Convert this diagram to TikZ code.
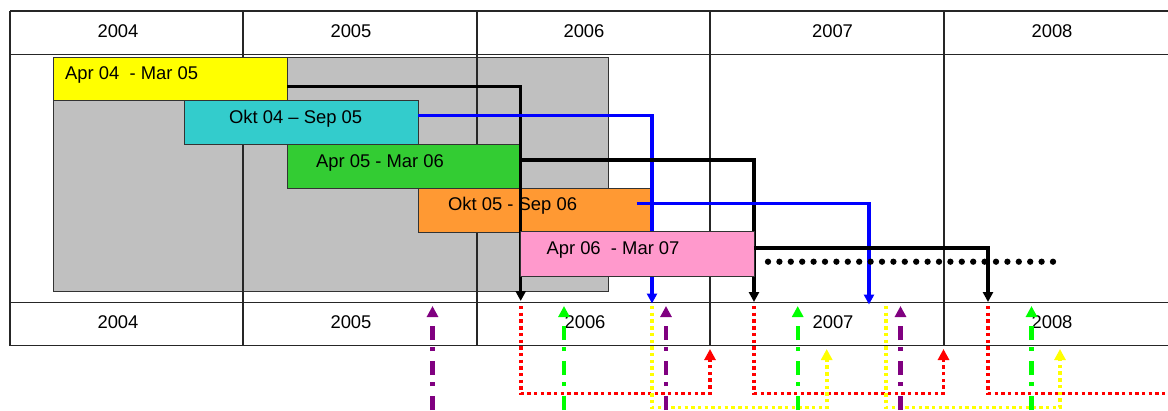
\documentclass[tikz,border=0pt]{standalone}
\usepackage{fontspec}
\setmainfont{Liberation Sans}
\usetikzlibrary{arrows.meta,calc}
\definecolor{cYellow}{HTML}{FFFF00}
\definecolor{cCyan}{HTML}{33CCCC}
\definecolor{cGreen}{HTML}{33CC33}
\definecolor{cOrange}{HTML}{FF9933}
\definecolor{cPink}{HTML}{FF99CC}
\definecolor{cGray}{HTML}{C0C0C0}
\definecolor{cBlue}{HTML}{0000FF}
\definecolor{cRed}{HTML}{FF0000}
\definecolor{cPurple}{HTML}{800080}
\definecolor{cLime}{HTML}{00FF00}
\begin{document}
\begin{tikzpicture}[x=1pt,y=-1pt,
  font=\fontsize{18.4}{22}\selectfont,
  grid/.style={line width=1.2pt,draw=black!85},
  bar/.style={draw=black!80,line width=1pt,minimum width=234pt,minimum height=44pt,inner sep=0pt,outer sep=0pt},
  lbl/.style={inner sep=0pt},
  conn/.style={line width=3.4pt,-{Triangle[length=10pt,width=10pt]}},
  redline/.style={cRed,line width=3.6pt,dash pattern=on 3.4pt off 3.3pt},
  yelline/.style={cYellow,line width=3.6pt,dash pattern=on 3.4pt off 3.3pt},
  upar/.style={-{Triangle[length=11pt,width=11pt]}},
  dashdot/.style={line width=4.3pt,dash pattern=on 14pt off 10pt on 4pt off 7pt,-{Triangle[length=11pt,width=11pt]}}
]
\useasboundingbox (0,0) rectangle (1168,410);
% gray area
\node[draw=black!80,line width=1pt,fill=cGray,inner sep=0pt,outer sep=0pt,minimum width=555pt,minimum height=234pt] (gr) at (330.5,174) {};
% table lines
\draw[grid] (10,11) -- (1168,11);
\draw[grid] (10,54.5) -- (1168,54.5);
\draw[grid] (10,302.3) -- (1168,302.3);
\draw[grid] (10,345.7) -- (1168,345.7);
\foreach \xx in {10,243,477,710,944} \draw[grid] (\xx,11) -- (\xx,345.7);
% year labels
\node[lbl] (h4) at (118,30.7) {2004};
\node[lbl] (h5) at (351,30.7) {2005};
\node[lbl] (h6) at (584,30.7) {2006};
\node[lbl] (h7) at (832.5,30.7) {2007};
\node[lbl] (h8) at (1052,30.7) {2008};
% boxes
\node[bar,fill=cYellow,minimum height=43pt] (ya) at (170,78.5) {};
\node[lbl,anchor=west] (yt) at (65,75) {Apr 04\ \ - Mar 05};
\node[bar,fill=cCyan] (cy) at (301,122) {};
\node[lbl] (ct) at (295.6,119) {Okt 04 – Sep 05};
\node[bar,fill=cGreen,minimum width=233pt] (gn) at (403.5,166) {};
\node[lbl] (gt) at (380,162.5) {Apr 05 - Mar 06};
\node[bar,fill=cOrange] (or) at (535,210) {};
\node[lbl] (ot) at (512.6,206) {Okt 05 - Sep 06};
% connector targets
\coordinate (t1) at (520.7,301);
\coordinate (t2) at (652,303.5);
\coordinate (t3) at (754,302);
\coordinate (t4) at (869,304.5);
\coordinate (t5) at (988,302);
\draw[conn] ([yshift=-8.2pt]ya.east) -| (t1);
\draw[conn,cBlue] ([yshift=6.3pt]cy.east) -| (t2);
\draw[conn] ([yshift=6pt]gn.east) -| (t3);
\draw[conn,cBlue] ([xshift=-15.3pt,yshift=6.7pt]or.east) -| (t4);
\node[bar,fill=cPink,minimum height=44.5pt] (pk) at (637,254.2) {};
\node[lbl] (pt) at (613,250) {Apr 06\ \ - Mar 07};
\draw[conn] ([yshift=6.3pt]pk.east) -| (t5);
% dotted continuation
\coordinate (d1) at (768,261.7);
\coordinate (d2) at (1053,261.7);
\draw[line width=6.3pt,line cap=round,dash pattern=on 0pt off 11.4pt] (d1) -- (d2);
% bottom year labels
\node[lbl] (b4) at (118,321.7) {2004};
\node[lbl] (b5) at (351,321.7) {2005};
\node[lbl] (b6) at (585,321.7) {2006};
\node[lbl] (b7) at (833,321.7) {2007};
\node[lbl] (b8) at (1052,321.7) {2008};
% red dotted
\coordinate (r1s) at (520.7,306); \coordinate (r1e) at (710,349);
\coordinate (r2s) at (754,306);   \coordinate (r2e) at (943.5,349);
\coordinate (r3s) at (988,306);   \coordinate (r3e) at (1168,393.3);
\draw[redline,upar] (r1s) |- (710,393.3) -- (r1e);
\draw[redline,upar] (r2s) |- (943.5,393.3) -- (r2e);
\draw[redline] (r3s) |- (r3e);
% yellow dotted
\coordinate (y1s) at (652,306); \coordinate (y1e) at (826.7,349);
\coordinate (y2s) at (886,306); \coordinate (y2e) at (1060,349);
\draw[yelline,upar] (y1s) |- (826.7,407.5) -- (y1e);
\draw[yelline,upar] (y2s) |- (1060,407.5) -- (y2e);
% dash-dot up arrows
\foreach \xx/\cc in {432.5/cPurple,666/cPurple,900.5/cPurple,564/cLime,797.7/cLime,1031.5/cLime}
  \draw[dashdot,\cc] (\xx,410) -- (\xx,306);
\end{tikzpicture}
\end{document}
